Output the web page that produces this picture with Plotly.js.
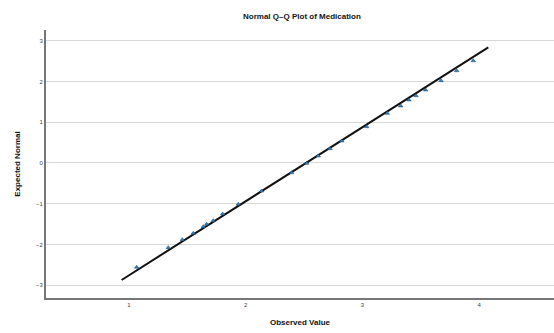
<!DOCTYPE html>
<html><head><meta charset="utf-8">
<script src="https://cdn.plot.ly/plotly-3.0.1.min.js"></script>
<style>html,body{margin:0;padding:0;background:#fff}#chart{width:554px;height:333px}</style>
</head><body><div id="chart"></div>
<script>
const observed = [1.066,1.337,1.457,1.551,1.637,1.666,1.722,1.803,1.937,2.137,2.394,2.523,2.622,2.722,2.823,3.037,3.213,3.328,3.399,3.459,3.542,3.674,3.808,3.950];
const expected = [-2.556,-2.076,-1.880,-1.723,-1.561,-1.502,-1.414,-1.250,-1.012,-0.686,-0.238,-0.007,0.172,0.350,0.539,0.890,1.218,1.397,1.544,1.650,1.789,2.017,2.262,2.507];
const lineX = [0.937, 4.079];
const lineY = [-2.868, 2.836];
const xTicks = [1, 2, 3, 4];
const yTicks = [-3, -2, -1, 0, 1, 2, 3];

const traces = [
  {x: lineX, y: lineY, mode: 'lines', line: {color: '#111', width: 2}, hoverinfo: 'skip'},
  {x: observed, y: expected, mode: 'markers',
   marker: {symbol: 'triangle-up', size: 4, color: '#2f86c8', line: {color: '#1a3a5a', width: 0.5}}}
];
const layout = {
  width: 554, height: 333,
  margin: {l: 46, r: 0, t: 30, b: 35},
  showlegend: false,
  paper_bgcolor: '#fff', plot_bgcolor: '#fff',
  font: {family: 'Liberation Sans, Arial, sans-serif', color: '#222'},
  title: {text: '<b>Normal Q–Q Plot of Medication</b>', font: {size: 8, color: '#111'}, x: 0.545, xanchor: 'center', y: 0.96},
  xaxis: {range: [0.289, 4.642], tickvals: xTicks, ticks: '', showgrid: false, zeroline: false,
    showline: true, linecolor: '#777', linewidth: 2, tickfont: {size: 6, color: '#444'},
    title: {text: '<b>Observed Value</b>', font: {size: 8, color: '#111'}, standoff: 12}},
  yaxis: {range: [-3.31, 3.26], tickvals: yTicks, ticks: '', showgrid: true, gridcolor: '#d8d8d8', gridwidth: 1,
    zeroline: false, showline: true, linecolor: '#777', linewidth: 2, tickfont: {size: 6, color: '#444'},
    title: {text: '<b>Expected Normal</b>', font: {size: 8, color: '#111'}, standoff: 14}}
};
Plotly.newPlot('chart', traces, layout, {displayModeBar: false, staticPlot: true});
</script></body></html>
